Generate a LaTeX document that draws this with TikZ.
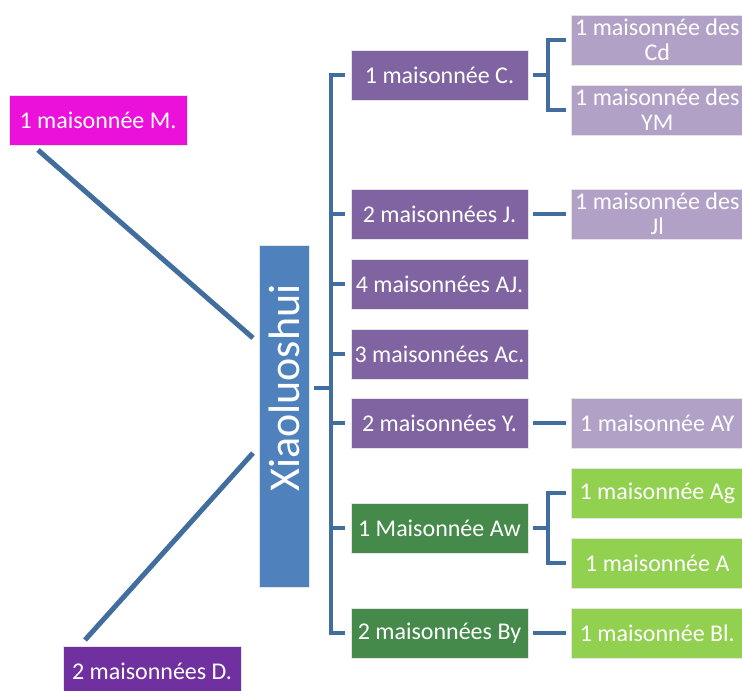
\documentclass[tikz,border=0pt]{standalone}
\usepackage{fontspec}
\setmainfont{Carlito}
\definecolor{conn}{HTML}{416E9F}
\definecolor{xblue}{HTML}{4F81BD}
\definecolor{mag}{HTML}{EB10DA}
\definecolor{dpurple}{HTML}{7030A0}
\definecolor{purp}{HTML}{8064A2}
\definecolor{lpurp}{HTML}{B2A1C7}
\definecolor{dgreen}{HTML}{458A4A}
\definecolor{lgreen}{HTML}{92D050}
\begin{document}
\begin{tikzpicture}[x=1pt,y=-1pt,
  box/.style={rectangle,draw=white!80!gray,line width=0.6pt,text=white,inner sep=0pt,
    minimum height=50pt,font=\fontsize{24}{25}\selectfont,align=center},
  lvl1/.style={box,fill=purp,minimum width=177pt},
  lvl1g/.style={box,fill=dgreen,minimum width=177pt},
  lvl2/.style={box,fill=lpurp,minimum width=172pt,anchor=west},
  lvl2g/.style={box,fill=lgreen,minimum width=172pt,anchor=west},
  link/.style={draw=conn,line width=4pt},
  diag/.style={draw=conn,line width=5pt}]
\useasboundingbox (0,0) rectangle (742,691);
\clip (0,0) rectangle (742,691);
% root
\node[rectangle,fill=xblue,draw=white!80!gray,line width=0.6pt,minimum width=50pt,minimum height=342pt,inner sep=0pt] (X) at (284,416) {};
\node[rotate=90,text=white,font=\fontsize{44}{46}\selectfont,inner sep=0pt] (Xt) at (284,388) {Xiaoluoshui};
% left nodes
\node[box,fill=mag,minimum width=178pt] (M) at (98,120) {1 maisonnée M.};
\node[box,fill=dpurple,minimum width=178pt] (D) at (152,671) {2 maisonnées D.};
% level 1
\node[lvl1] (C) at (439.5,75) {1 maisonnée C.};
\node[lvl1] (J) at (439.5,214) {2 maisonnées J.};
\node[lvl1] (AJ) at (439.5,284) {4 maisonnées AJ.};
\node[lvl1] (Ac) at (439.5,354) {3 maisonnées Ac.};
\node[lvl1] (Y) at (439.5,423) {2 maisonnées Y.};
\node[lvl1g] (Aw) at (439.5,528) {1 Maisonnée Aw};
\node[lvl1g] (By) at (439.5,633) {2 maisonnées By};
% level 2
\node[lvl2] (Cd) at (571,40) {1 maisonnée des\\Cd};
\node[lvl2] (YM) at (571,110) {1 maisonnée des\\YM};
\node[lvl2] (Jl) at (571,214) {1 maisonnée des\\Jl};
\node[lvl2] (AY) at (571,423) {1 maisonnée AY};
\node[lvl2g] (Ag) at (571,493) {1 maisonnée Ag};
\node[lvl2g] (A) at (571,563) {1 maisonnée A};
\node[lvl2g] (Bl) at (571,633) {1 maisonnée Bl.};
% diagonal connectors
\coordinate (m1) at (38,150);
\coordinate (m2) at (253,338);
\coordinate (d1) at (85,640);
\coordinate (d2) at (253,453);
\draw[diag] (m1) -- (m2);
\draw[diag] (d1) -- (d2);
% main bus
\coordinate (bus) at (331,388);
\draw[link] ([xshift=5pt]X.east |- bus) -- (bus);
\draw[link,line join=miter] ([xshift=-6pt]C.west) -| (bus |- By.west) -- ([xshift=-6pt]By.west);
\foreach \n in {J,AJ,Ac,Y,Aw}{
  \draw[link] (bus |- \n.west) -- ([xshift=-6pt]\n.west);
}
% C bracket
\coordinate (cb) at (548,75);
\draw[link] ([xshift=5pt]C.east) -- (cb);
\draw[link,line join=miter] ([xshift=-5pt]Cd.west) -| (cb |- YM.west) -- ([xshift=-5pt]YM.west);
% Aw bracket
\coordinate (ab) at (548,528);
\draw[link] ([xshift=5pt]Aw.east) -- (ab);
\draw[link,line join=miter] ([xshift=-5pt]Ag.west) -| (ab |- A.west) -- ([xshift=-5pt]A.west);
% single links
\draw[link,shorten <=5pt,shorten >=5pt] (J.east) -- (Jl.west);
\draw[link,shorten <=5pt,shorten >=5pt] (Y.east) -- (AY.west);
\draw[link,shorten <=5pt,shorten >=5pt] (By.east) -- (Bl.west);
\end{tikzpicture}
\end{document}
